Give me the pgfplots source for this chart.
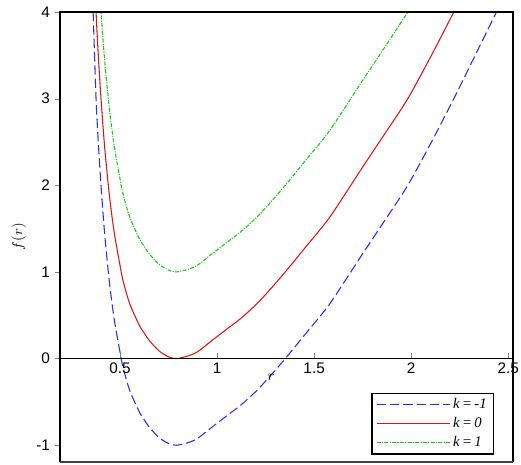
\documentclass[border=0pt]{standalone}
\usepackage{fontspec}
\setmainfont{Liberation Sans}
\newfontfamily\serif{Liberation Serif}
\usepackage{pgfplots}
\pgfplotsset{compat=1.18}
\usetikzlibrary{calc}
\definecolor{kblue}{RGB}{45,45,225}
\definecolor{kred}{RGB}{210,25,25}
\definecolor{kgreen}{RGB}{35,190,35}
\begin{document}
\begin{tikzpicture}
\begin{axis}[
  name=ax,
  width=340pt, height=337.5pt, scale only axis,
  xmin=0.19, xmax=2.525, ymin=-1.19, ymax=4,
  xtick=\empty,
  ytick={-1,0,1,2,3,4},
  ytick pos=left, tick align=outside,
  major tick length=4pt,
  axis line style={line width=0.9pt},
  every tick label/.style={font=\fontsize{11.5}{12}\selectfont},
  /pgf/number format/assume math mode=true,
  legend style={at={(axis description cs:0.958,0.016)}, anchor=south east,
    draw=black, line width=1pt, font=\serif\itshape\fontsize{11}{13}\selectfont,
    inner xsep=3pt, inner ysep=2pt, row sep=1pt},
  legend cell align=left,
  legend image code/.code={\draw[#1] (0pt,0pt) -- (55pt,0pt);},
]
% k = -1
\addplot[kblue, line width=0.8pt, smooth, tension=0.5, dash pattern=on 7pt off 3pt] coordinates {
  (0.361,4.00)(0.376,3.00)(0.385,2.60)(0.40,2.05)(0.42,1.45)(0.445,0.88)
  (0.47,0.45)(0.50,0.07)(0.515,-0.10)(0.55,-0.37)(0.60,-0.62)(0.62,-0.69)
  (0.65,-0.79)(0.70,-0.91)(0.75,-0.98)(0.79,-1.00)(0.85,-0.97)(0.90,-0.92)
  (0.98,-0.78)(1.05,-0.66)(1.12,-0.54)(1.19,-0.40)(1.25,-0.26)(1.34,-0.03)
  (1.45,0.27)(1.57,0.60)(1.66,0.90)(1.75,1.21)(1.86,1.58)(1.98,1.99)
  (2.10,2.48)(2.22,3.00)(2.33,3.50)(2.44,4.00)
};
\addlegendentry{k\,=\,-1}
% k = 0
\addplot[kred, line width=0.8pt, smooth, tension=0.5] coordinates {
  (0.376,4.00)(0.385,3.60)(0.40,3.05)(0.42,2.45)(0.445,1.88)
  (0.47,1.45)(0.50,1.07)(0.515,0.90)(0.55,0.63)(0.60,0.38)(0.62,0.31)
  (0.65,0.21)(0.70,0.09)(0.75,0.02)(0.79,0.00)(0.85,0.03)(0.90,0.08)
  (0.98,0.22)(1.05,0.34)(1.12,0.46)(1.19,0.60)(1.25,0.74)(1.34,0.97)
  (1.45,1.27)(1.57,1.60)(1.66,1.90)(1.75,2.21)(1.86,2.58)(1.98,2.99)
  (2.10,3.48)(2.22,4.00)
};
\addlegendentry{k\,=\,0}
% k = 1
\addplot[kgreen, line width=0.8pt, smooth, tension=0.5, dash pattern=on 3pt off 1pt on 0.8pt off 1pt] coordinates {
  (0.40,4.05)(0.42,3.45)(0.445,2.88)
  (0.47,2.45)(0.50,2.07)(0.515,1.90)(0.55,1.63)(0.60,1.38)(0.62,1.31)
  (0.65,1.21)(0.70,1.09)(0.75,1.02)(0.79,1.00)(0.85,1.03)(0.90,1.08)
  (0.98,1.22)(1.05,1.34)(1.12,1.46)(1.19,1.60)(1.25,1.74)(1.34,1.97)
  (1.45,2.27)(1.57,2.60)(1.66,2.90)(1.75,3.21)(1.86,3.58)(1.98,3.99)
};
\addlegendentry{k\,=\,1}
\end{axis}
% x axis through y = 0
\begin{axis}[
  width=340pt, height=337.5pt, scale only axis,
  xmin=0.19, xmax=2.525, ymin=-1.19, ymax=4,
  axis x line*=middle, axis y line=none,
  xtick={0.5,1,1.5,2,2.5},
  xticklabels={0.5,1,1.5,2,2.5},
  tick align=inside, major tick length=4pt,
  axis line style={line width=0.9pt},
  every tick label/.style={font=\fontsize{11.5}{12}\selectfont},
  /pgf/number format/assume math mode=true,
]
\end{axis}
\draw[line width=1.8pt] (ax.north west) -- (ax.north east);
\draw[line width=1.4pt, black!75] (ax.south west) -- (ax.south east);
\node[font=\fontsize{11}{12}\selectfont, rotate=90] at ($(ax.west)+(-31pt,0pt)$) {$f(r)$};
\node[font=\fontsize{11}{12}\selectfont] at ($(ax.south west)!0.466!(ax.south east)+(0pt,63.5pt)$) {$r$};
\pgfresetboundingbox
\useasboundingbox ($(ax.south west)+(-45pt,-2.25pt)$) rectangle ($(ax.north east)+(6pt,9pt)$);
\end{tikzpicture}
\end{document}
